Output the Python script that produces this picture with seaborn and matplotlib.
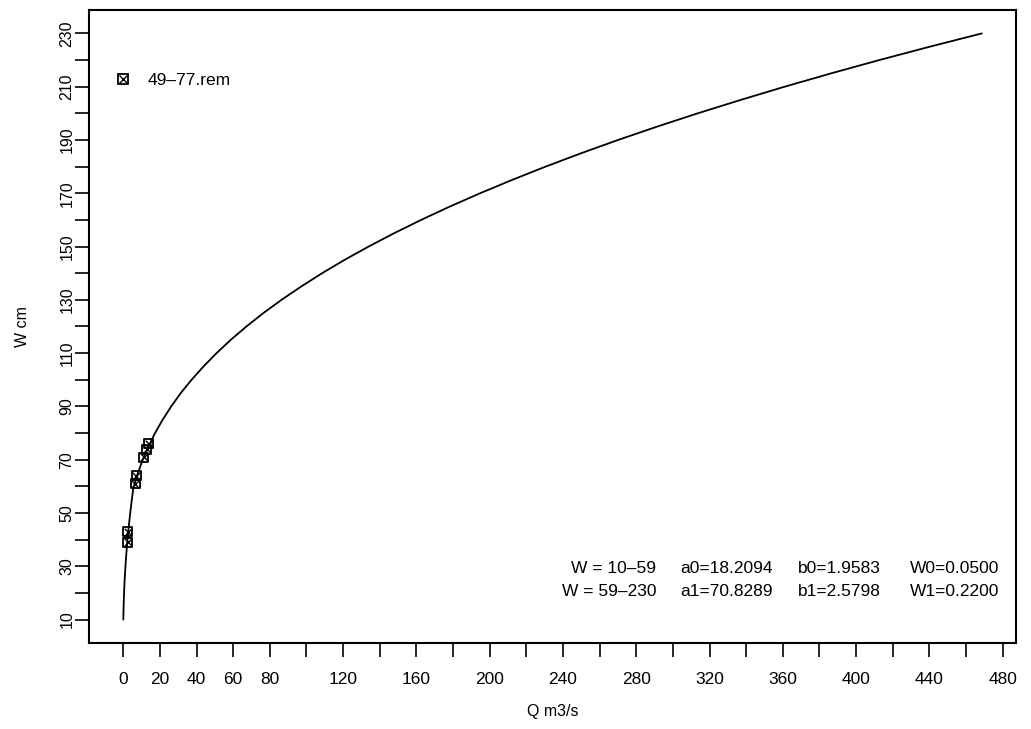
import numpy as np
import pandas as pd
import seaborn as sns
import matplotlib
matplotlib.use("Agg")
from matplotlib import pyplot as plt
from matplotlib.lines import Line2D
from matplotlib.legend_handler import HandlerTuple
from matplotlib.ticker import FixedLocator, FuncFormatter

# rating curve (W in cm, Q in m3/s)
curve_w = [10, 15, 20, 25, 30, 35, 40, 45, 50, 55, 59, 60, 65, 70, 75, 80, 85, 90, 95,
           100, 105, 110, 115, 120, 125, 130, 135, 140, 145, 150, 155, 160, 165, 170, 175,
           180, 185, 190, 195, 200, 205, 210, 215, 220, 225, 230]
curve_q = [0.05, 0.20, 0.44, 0.78, 1.21, 1.72, 2.33, 3.03, 3.81, 4.69, 5.45, 5.84, 8.0, 10.66,
           13.8, 17.37, 21.5, 26.19, 31.4, 37.31, 43.8, 50.93, 58.7, 67.23, 76.4, 86.39,
           97.1, 108.55, 120.8, 133.91, 147.8, 162.58, 178.2, 194.74, 212.2, 230.50, 249.8,
           270.04, 291.3, 313.51, 336.8, 360.99, 386.3, 412.63, 440.1, 468.6]

# measured points (49-77.rem)
obs_q = [2.4, 2.4, 6.6, 7.0, 11.2, 12.7, 14.0]
obs_w = [39, 43, 61, 64, 71, 74, 76]

x_ticks = list(range(0, 481, 20))
y_ticks = list(range(10, 231, 10))

legend_label = "49\u201377.rem"
info_rows = [["W = 10\u201359", "a0=18.2094", "b0=1.9583", "W0=0.0500"],
             ["W = 59\u2013230", "a1=70.8289", "b1=2.5798", "W1=0.2200"]]

sns.set_style("ticks")
plt.rcParams['font.family'] = ['Liberation Sans', 'DejaVu Sans']
plt.rcParams['text.color'] = 'black'
plt.rcParams['axes.labelcolor'] = 'black'
plt.rcParams['xtick.color'] = 'black'
plt.rcParams['ytick.color'] = 'black'

fig = plt.figure(figsize=(10.31, 7.29), dpi=100)
ax = fig.add_axes([0.0863, 0.118, 0.8992, 0.8683])

curve = pd.DataFrame({"Q": curve_q, "W": curve_w})
obs = pd.DataFrame({"Q": obs_q, "W": obs_w})

sns.lineplot(data=curve, x="Q", y="W", ax=ax, color="black", lw=1.3, estimator=None, sort=False)
sns.scatterplot(data=obs, x="Q", y="W", ax=ax, marker="s", s=42, facecolor="none",
                edgecolor="black", linewidth=1.3, zorder=3)
sns.scatterplot(data=obs, x="Q", y="W", ax=ax, marker="x", s=30, color="black",
                linewidth=1.0, zorder=4)

ax.set_xlim(-18.7, 487.3)
ax.set_ylim(1.2, 238.8)

ax.xaxis.set_major_locator(FixedLocator(x_ticks))
ax.xaxis.set_major_formatter(FuncFormatter(lambda v, p: "%d" % v if (v <= 80 or v % 40 == 0) else ""))
ax.yaxis.set_major_locator(FixedLocator(y_ticks))
ax.yaxis.set_major_formatter(FuncFormatter(lambda v, p: "%d" % v if (v % 20 == 10) else ""))

ax.tick_params(axis="x", length=10, width=1.2, pad=11, labelsize=12.5, direction="out")
ax.tick_params(axis="y", length=10, width=1.2, pad=0.5, labelsize=11.5, direction="out")
for lab in ax.get_yticklabels():
    lab.set_rotation(90)
    lab.set_va("center")

for s in ax.spines.values():
    s.set_visible(True)
    s.set_linewidth(1.5)
    s.set_color("black")

ax.set_xlabel("Q m3/s", fontsize=11.5, labelpad=12)
ax.set_ylabel("W cm", fontsize=11.5, labelpad=21)

h_box = Line2D([], [], marker="s", ls="none", markersize=7, markerfacecolor="none",
               markeredgecolor="black", markeredgewidth=1.3)
h_x = Line2D([], [], marker="x", ls="none", markersize=5.5, color="black", markeredgewidth=1.0)
ax.legend([(h_box, h_x)], [legend_label], handler_map={tuple: HandlerTuple(ndivide=1, pad=0)},
          loc="center left", bbox_to_anchor=(0.0293, 0.888), frameon=False, fontsize=12.5,
          handlelength=0.8, handletextpad=1.0, borderaxespad=0, borderpad=0)

# parameter table in the lower right
col_x = [0.612, 0.638, 0.765, 0.886]
row_y = [0.118, 0.082]
for r, row in enumerate(info_rows):
    for c, txt in enumerate(row):
        ax.text(col_x[c], row_y[r], txt, transform=ax.transAxes, fontsize=12.5,
                ha="right" if c == 0 else "left", va="center")

fig.savefig("out.png", dpi=100)
